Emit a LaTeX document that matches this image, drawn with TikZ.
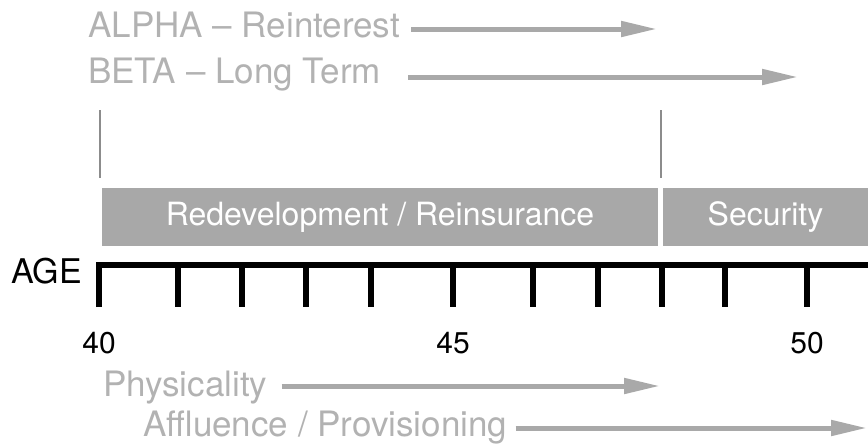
\documentclass[tikz,border=0pt]{standalone}
\usepackage{fontspec}
\setmainfont{TeX Gyre Heros}
\usetikzlibrary{arrows.meta}
\definecolor{lblgray}{HTML}{B2B2B2}
\definecolor{arrgray}{HTML}{A9A9A9}
\definecolor{boxgray}{HTML}{A8A8A8}
\definecolor{markgray}{HTML}{8C8C8C}

\begin{document}
\begin{tikzpicture}[x=1pt,y=-1pt,
    lbl/.style={anchor=base west,inner sep=0pt,text=lblgray,font=\fontsize{35}{40}\selectfont},
    flow/.style={draw=arrgray,line width=5pt,-{Triangle[length=36pt,width=15pt]}},
    phase/.style={fill=boxgray,text=white,minimum height=58pt,inner sep=0pt,font=\fontsize{32}{36}\selectfont},
    agenum/.style={inner sep=0pt,font=\fontsize{30}{33}\selectfont},
    axisline/.style={line width=6pt,line join=miter},
    markline/.style={draw=markgray,line width=2.5pt}]
  \useasboundingbox (0,0) rectangle (868,445);
  % stages above the axis
  \node[lbl] (alpha) at (88,37) {ALPHA – Reinterest};
  \node[lbl] (beta) at (88,83) {BETA – Long Term};
  \coordinate (alphaend) at (657,29);
  \coordinate (betaend) at (798,77);
  \draw[flow] ([xshift=11pt]alpha.east |- alphaend) -- (alphaend);
  \draw[flow] ([xshift=27pt]beta.east |- betaend) -- (betaend);
  \draw[markline] (100,110) coordinate (m1) -- (100,178);
  \draw[markline] (661,110) coordinate (m2) -- (661,178);
  \node[phase,minimum width=556pt] (redev) at (380,217) {Redevelopment / Reinsurance};
  \node[phase,minimum width=205pt] (secur) at (765.5,217) {Security};
  % age axis
  \node[anchor=base west,inner sep=0pt,font=\fontsize{34}{36}\selectfont] (age) at (11,283) {AGE};
  \draw[axisline] (99,307) -- (99,265) coordinate (a0) -- (868,265);
  \foreach \x in {178,242,306,371,453,533,598,662,725,807}
    \draw[line width=6pt] (\x,265) -- (\x,307);
  \node[agenum] (n40) at (99,343) {40};
  \node[agenum] (n45) at (453,343) {45};
  \node[agenum] (n50) at (807,343) {50};
  % stages below the axis
  \node[lbl] (phys) at (103,396) {Physicality};
  \node[lbl] (affl) at (143,436) {Affluence / Provisioning};
  \coordinate (physend) at (660,386);
  \coordinate (afflend) at (867,428);
  \draw[flow] ([xshift=14pt]phys.east |- physend) -- (physend);
  \draw[flow] ([xshift=8pt]affl.east |- afflend) -- (afflend);
\end{tikzpicture}
\end{document}
